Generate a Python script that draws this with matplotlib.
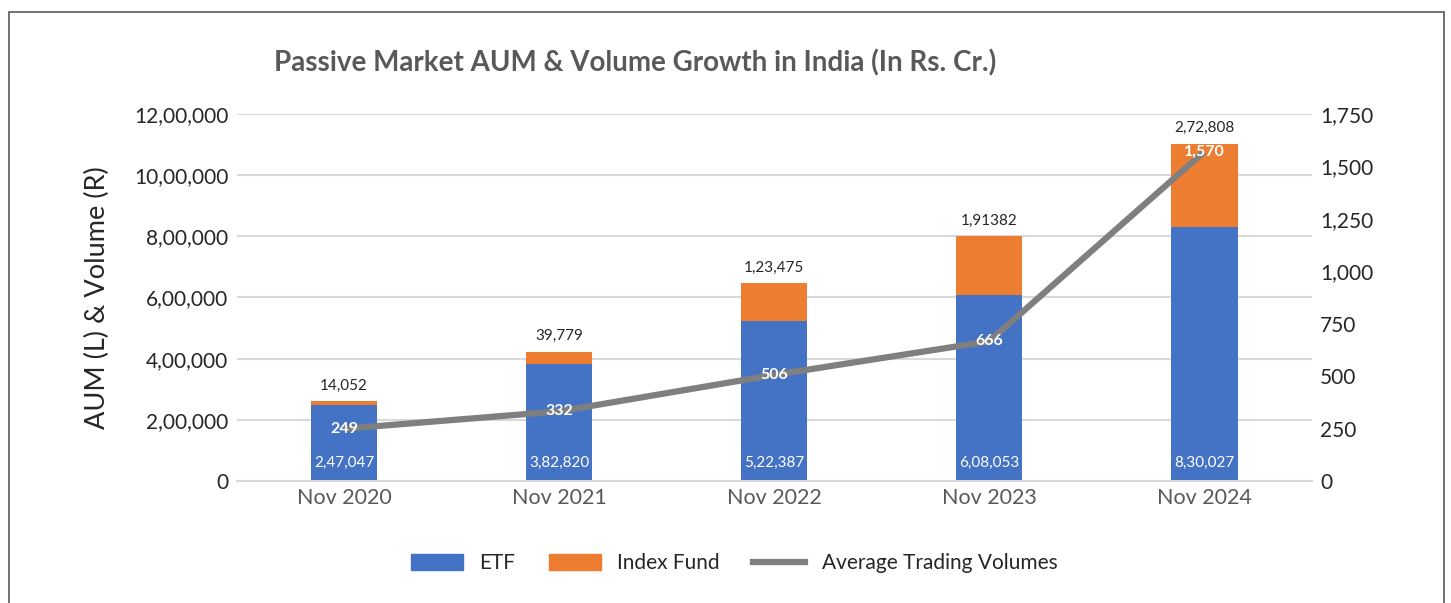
import matplotlib
matplotlib.use("Agg")
import matplotlib.pyplot as plt
from matplotlib.patches import Rectangle, Patch
from matplotlib.lines import Line2D
from matplotlib.ticker import FixedLocator

plt.rcParams['font.family'] = ['Lato', 'DejaVu Sans']

categories = ["Nov 2020", "Nov 2021", "Nov 2022", "Nov 2023", "Nov 2024"]
etf = [247047, 382820, 522387, 608053, 830027]
index_fund = [14052, 39779, 123475, 191382, 272808]
volumes = [249, 332, 506, 666, 1570]
etf_labels = ["2,47,047", "3,82,820", "5,22,387", "6,08,053", "8,30,027"]
index_labels = ["14,052", "39,779", "1,23,475", "1,91382", "2,72,808"]
volume_labels = ["249", "332", "506", "666", "1,570"]
left_ticks = [0, 200000, 400000, 600000, 800000, 1000000, 1200000]
left_tick_labels = ["0", "2,00,000", "4,00,000", "6,00,000", "8,00,000", "10,00,000", "12,00,000"]
right_ticks = [0, 250, 500, 750, 1000, 1250, 1500, 1750]
right_tick_labels = ["0", "250", "500", "750", "1,000", "1,250", "1,500", "1,750"]

BLUE = "#4472C4"
ORANGE = "#ED7D31"
GRAY = "#7F7F7F"

fig = plt.figure(figsize=(14.51, 6.03), dpi=100)
ax = fig.add_axes([0.163, 0.2023, 0.741, 0.6087])
x = list(range(len(categories)))

ax.bar(x, etf, width=0.31, color=BLUE, zorder=2)
ax.bar(x, index_fund, width=0.31, bottom=etf, color=ORANGE, zorder=2)
ax.set_xlim(-0.5, 4.5)
ax.set_ylim(0, 1200000)
ax.yaxis.set_major_locator(FixedLocator(left_ticks))
ax.set_yticklabels(left_tick_labels, fontsize=15, color="#262626")
ax.set_xticks(x)
ax.set_xticklabels(categories, fontsize=15.5, color="#595959")
ax.tick_params(axis='both', length=0)
ax.tick_params(axis='y', pad=6)
ax.tick_params(axis='x', pad=5)
ax.grid(axis='y', color="#D9D9D9", lw=1.5, zorder=0)
ax.set_axisbelow(True)
for s in ["top", "right", "left"]:
    ax.spines[s].set_visible(False)
ax.spines["bottom"].set_color("#D9D9D9")
ax.spines["bottom"].set_linewidth(1.5)
ax.set_ylabel("AUM (L) & Volume (R)", fontsize=19.5, color="#262626", labelpad=17)

for i in x:
    ax.text(i, 58000, etf_labels[i], ha="center", va="center", color="white", fontsize=11, zorder=5)
    ax.text(i, etf[i] + index_fund[i] + 28000, index_labels[i], ha="center", va="bottom", color="#262626", fontsize=11, zorder=5)

ax2 = ax.twinx()
ax2.set_ylim(0, 1750)
ax2.plot(x, volumes, color=GRAY, lw=4.5, zorder=3, solid_capstyle="butt")
ax2.yaxis.set_major_locator(FixedLocator(right_ticks))
ax2.set_yticklabels(right_tick_labels, fontsize=15, color="#262626")
ax2.tick_params(axis='y', length=0, pad=6)
for s in ["top", "right", "left", "bottom"]:
    ax2.spines[s].set_visible(False)
for i in x:
    ax2.text(i, volumes[i], volume_labels[i], ha="center", va="center", color="white",
             fontsize=11.5, fontweight="bold", zorder=6)

fig.text(0.4375, 0.895, "Passive Market AUM & Volume Growth in India (In Rs. Cr.)",
         ha="center", va="center", fontsize=20, fontweight="bold", color="#595959")

handles = [Patch(color=BLUE, label="ETF"), Patch(color=ORANGE, label="Index Fund"),
           Line2D([0], [0], color=GRAY, lw=4.5, label="Average Trading Volumes")]
fig.legend(handles=handles, loc="center", bbox_to_anchor=(0.506, 0.066), ncol=3, frameon=False,
           fontsize=15, labelcolor="#262626", handlelength=2.5, handleheight=0.8, columnspacing=1.6,
           handletextpad=0.8)

fig.patches.append(Rectangle((9/1451, -0.05), (1444-9)/1451, (603-12)/603 + 0.05,
                             transform=fig.transFigure, fill=False, edgecolor="#595959", lw=1.2))

fig.savefig("out.png", dpi=100)
